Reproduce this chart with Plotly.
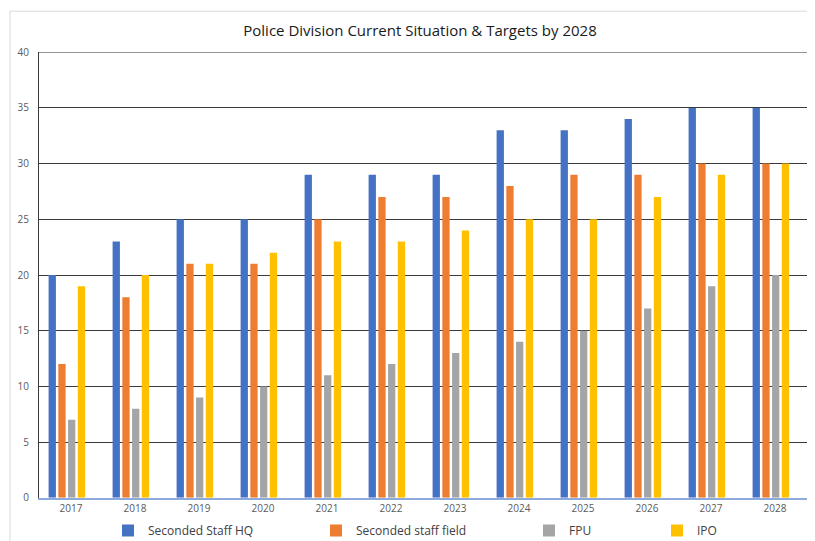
import plotly.graph_objects as go

years = ["2017", "2018", "2019", "2020", "2021", "2022", "2023", "2024", "2025", "2026", "2027", "2028"]
staff_hq = [20, 23, 25, 25, 29, 29, 29, 33, 33, 34, 35, 35]
staff_field = [12, 18, 21, 21, 25, 27, 27, 28, 29, 29, 30, 30]
fpu = [7, 8, 9, 10, 11, 12, 13, 14, 15, 17, 19, 20]
ipo = [19, 20, 21, 22, 23, 23, 24, 25, 25, 27, 29, 30]
series_names = ["Seconded Staff HQ", "Seconded staff field", "FPU", "IPO"]
y_ticks = [0, 5, 10, 15, 20, 25, 30, 35, 40]

# page body has an 8px margin; the captured picture is slightly squeezed vertically
PAD = 8
SY = 553 / 541
W, H = 815 - 2 * PAD, 553 - 2 * PAD


def px_x(x):
    return min(1.0, max(0.0, (x - PAD) / W))


def px_y(y):
    return 1 - (y * SY - PAD) / H


colors = ["#4472C4", "#ED7D31", "#A5A5A5", "#FFC000"]
offsets = [-0.35, -0.198, -0.046, 0.106]
legend_ids = ["legend", "legend2", "legend3", "legend4"]
legend_x_ref = [108, 316, 529, 657]

fig = go.Figure()
for name, vals, col, off, lg in zip(series_names, [staff_hq, staff_field, fpu, ipo], colors, offsets, legend_ids):
    fig.add_trace(go.Bar(x=years, y=vals, name=name, marker=dict(color=col, line=dict(width=0)),
                         offset=off, width=0.114, legend=lg))

leg_common = dict(orientation="h", y=px_y(530), yanchor="middle", xanchor="left",
                  font=dict(family="Open Sans", size=12, color="#404040"), bgcolor="rgba(0,0,0,0)")
layout_legends = {}
for lg, lx in zip(legend_ids, legend_x_ref):
    layout_legends[lg] = dict(leg_common, x=px_x(lx))

fig.update_layout(
    width=W, height=H,
    margin=dict(l=0, r=0, t=0, b=0),
    paper_bgcolor="white", plot_bgcolor="white",
    barmode="overlay",
    title=dict(text="Police Division Current Situation & Targets by 2028", x=px_x(420), xanchor="center",
               y=px_y(30), yanchor="middle", font=dict(family="Open Sans", size=15, color="#1a1a1a")),
    showlegend=True,
    xaxis=dict(type="category", domain=[px_x(39), px_x(810)], showgrid=False, showline=True,
               linecolor="#8FAADC", linewidth=1.5, ticks="", automargin=False,
               tickfont=dict(family="Open Sans", size=10, color="#595959")),
    yaxis=dict(range=[0, 40], domain=[px_y(497), px_y(52)], tickvals=y_ticks, showgrid=True,
               gridcolor="#3a3a3a", gridwidth=1, showline=True, linecolor="#3a3a3a", linewidth=1,
               mirror=True, zeroline=False, ticks="", automargin=False, ticklabelstandoff=7,
               tickfont=dict(family="Open Sans", size=10, color="#595959")),
    shapes=[
        dict(type="rect", xref="paper", yref="paper", x0=px_x(10), x1=1.05, y0=-0.05, y1=px_y(11),
             line=dict(color="#d9d9d9", width=1), layer="below"),
        dict(type="line", xref="x domain", yref="y", x0=0, x1=1, y0=40, y1=40,
             line=dict(color="#3a3a3a", width=1)),
    ],
    **layout_legends,
)

fig.write_html("out.html")
